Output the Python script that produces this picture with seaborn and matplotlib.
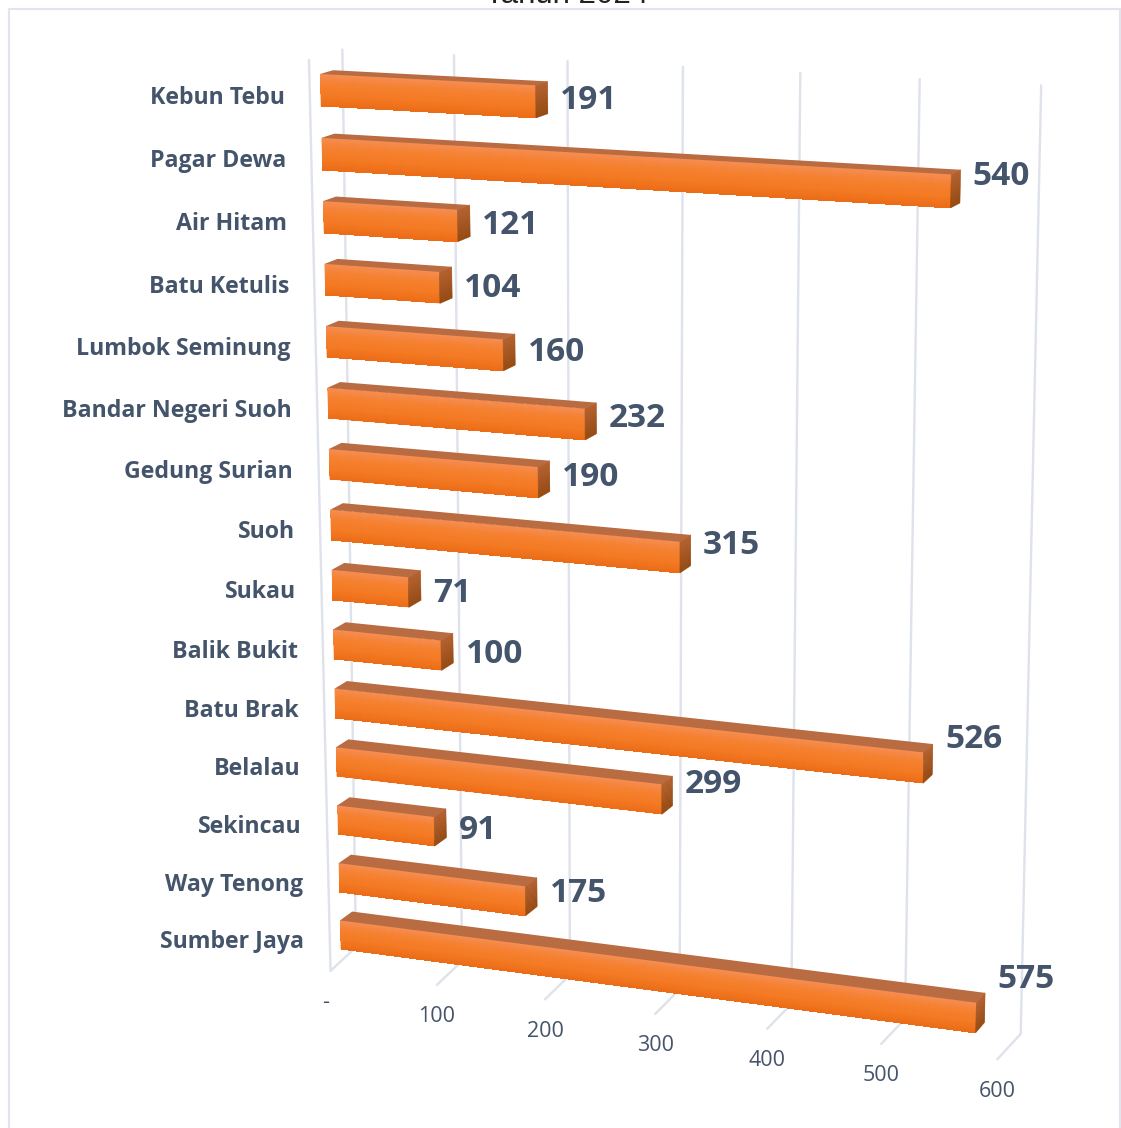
import numpy as np
import pandas as pd
import matplotlib
matplotlib.use("Agg")
import matplotlib.pyplot as plt
import matplotlib.transforms as mtransforms
from matplotlib.colors import LinearSegmentedColormap
from matplotlib.patches import Rectangle
import seaborn as sns

# ---------- data ----------
districts = ["Kebun Tebu", "Pagar Dewa", "Air Hitam", "Batu Ketulis", "Lumbok Seminung",
             "Bandar Negeri Suoh", "Gedung Surian", "Suoh", "Sukau", "Balik Bukit",
             "Batu Brak", "Belalau", "Sekincau", "Way Tenong", "Sumber Jaya"]
counts = [191, 540, 121, 104, 160, 232, 190, 315, 71, 100, 526, 299, 91, 175, 575]
axis_ticks = [0, 100, 200, 300, 400, 500, 600]
axis_tick_labels = ["-", "100", "200", "300", "400", "500", "600"]
title_text = "Tahun 2024"

# ---------- page ----------
W, H = 1121, 1128
TEXT = "#44546A"
GRID = "#DEE2EB"
BAR_H = 0.5

sns.set_theme(style="white")
plt.rcParams["font.family"] = ["Open Sans", "DejaVu Sans"]


def fit_camera(points):
    """Least-squares pinhole camera: (value, row, depth) -> picture pixel."""
    A, b = [], []
    for (v, y, d), (px, py) in points:
        A.append([v, y, d, 1, 0, 0, 0, 0, -px * v, -px * y, -px * d])
        b.append(px)
        A.append([0, 0, 0, 0, v, y, d, 1, -py * v, -py * y, -py * d])
        b.append(py)
    p = np.linalg.lstsq(np.array(A, float), np.array(b, float), rcond=None)[0]
    return np.append(p, 1.0).reshape(3, 4)


def project(P, v, y, d):
    q = P @ np.array([v, y, d, 1.0])
    return q[0] / q[2], q[1] / q[2]


def fit_plane(points):
    """Least-squares homography: (value, s) on a plane -> picture pixel."""
    A, b = [], []
    for (v, s), (px, py) in points:
        A.append([v, s, 1, 0, 0, 0, -px * v, -px * s])
        b.append(px)
        A.append([0, 0, 0, v, s, 1, -py * v, -py * s])
        b.append(py)
    p = np.linalg.lstsq(np.array(A, float), np.array(b, float), rcond=None)[0]
    return np.append(p, 1.0).reshape(3, 3)


def on_plane(M, v, s):
    q = M @ np.array([v, s, 1.0])
    return q[0] / q[2], q[1] / q[2]


class PlaneTransform(mtransforms.Transform):
    """Data (value, row) on a plane of constant depth -> display pixels."""
    input_dims = 2
    output_dims = 2
    has_inverse = False

    def __init__(self, P, plane_depth=0.0):
        super().__init__()
        self.P, self.plane_depth = P, plane_depth

    def transform_non_affine(self, xy):
        xy = np.asarray(xy, float)
        h = np.c_[xy, np.full(len(xy), self.plane_depth), np.ones(len(xy))]
        q = h @ self.P.T
        return np.c_[q[:, 0] / q[:, 2], H - q[:, 1] / q[:, 2]]


# Perspective of the bars: row/depth calibration
bar_cam = fit_camera([
    ((0, -.25, 0), (320.5, 74.5)), ((0, .25, 0), (320.5, 106)),
    ((191, -.25, 0), (536, 85)), ((191, .25, 0), (536, 118)),
    ((191, -.25, 1), (548, 81)), ((191, .25, 1), (548, 114)),
    ((0, -.25, 1), (332, 70)),
    ((0, .75, 0), (322, 138)), ((0, 1.25, 0), (322, 169.5)),
    ((540, .75, 0), (951, 174)), ((540, 1.25, 0), (951, 208)),
    ((540, .75, 1), (960, 170)), ((540, 1.25, 1), (960, 203)),
    ((0, 13.75, 0), (340, 920.7)), ((0, 14.25, 0), (340, 949)),
    ((575, 13.75, 0), (976, 1003)), ((575, 14.25, 0), (976, 1032)),
    ((575, 13.75, 1), (985, 992)), ((575, 14.25, 1), (984.5, 1024)),
    ((0, 13.75, 1), (353, 911)),
])
# Floor plane (value, depth): depth 0 = front edge, 1 = back edge
# The front edge is fully visible, so it counts more than the half-hidden back edge.
floor_front = [
    ((0, 0), (331, 970)), ((100, 0), (437, 985)), ((200, 0), (544.3, 999.3)),
    ((300, 0), (655, 1013.3)), ((400, 0), (767.3, 1029.3)),
    ((500, 0), (881.7, 1044.3)), ((600, 0), (997, 1060)),
]
floor_back = [
    ((0, 1), (355, 950)), ((100, 1), (460, 965)), ((200, 1), (570, 977)),
    ((300, 1), (681.7, 989)), ((400, 1), (793.3, 1001)),
    ((500, 1), (906.7, 1016)), ((600, 1), (1018, 1031)),
]
floor_plane = fit_plane(floor_front * 6 + floor_back)
# Back wall (value, height): 0 = top, 1 = floor
back_plane = fit_plane([
    ((0, 0), (343, 50)), ((100, 0), (454, 55)), ((200, 0), (567, 61)),
    ((300, 0), (682, 67)), ((400, 0), (800, 73)), ((500, 0), (921, 79)),
    ((600, 0), (1041, 85)),
] + floor_back)
LEFT_WALL_TOP = (309, 60)

fig = plt.figure(figsize=(W / 100, H / 100), dpi=100, facecolor="white")
ax = fig.add_axes([0, 0, 1, 1])
px = mtransforms.IdentityTransform()


def xy_px(x, y):
    return x, H - y


# chart frame
fig.add_artist(Rectangle((9, -20), 1111, H - 9 + 20, transform=px, fill=False,
                         ec="#E2E5ED", lw=1.5))

# ---------- bars via seaborn ----------
df = pd.DataFrame({"district": districts, "count": counts})
sns.barplot(data=df, x="count", y="district", orient="h", width=BAR_H,
            color="#F57C28", saturation=1, linewidth=0, ax=ax, zorder=3)
front = PlaneTransform(bar_cam, 0.0)
for patch in ax.patches:
    patch.set_transform(front)
    patch.set_clip_on(False)

front_cmap = LinearSegmentedColormap.from_list(
    "front", ["#F58D54", "#F5802F", "#F47A24", "#EC6D17"])
side_cmap = LinearSegmentedColormap.from_list("side", ["#B4602E", "#94480F"])
rows = np.linspace(0, 1, 41)
shade = ((rows[:-1] + rows[1:]) / 2).reshape(-1, 1)

for i, v in enumerate(counts):
    top, bot = i - BAR_H / 2, i + BAR_H / 2
    # gradient on the front face
    mesh = ax.pcolormesh([0, v], top + rows * BAR_H, shade, cmap=front_cmap,
                         vmin=0, vmax=1, transform=front, zorder=3.1,
                         shading="flat", antialiased=False, linewidth=0)
    mesh.set_clip_on(False)
    # top face
    pts = [project(bar_cam, a, top, d) for a, d in ((0, 0), (v, 0), (v, 1), (0, 1))]
    ax.fill(*zip(*[xy_px(*p) for p in pts]), color="#B96B41", lw=0,
            transform=px, zorder=3.2, clip_on=False)
    # end face
    steps = np.linspace(0, 1, 17)
    for s0, s1 in zip(steps[:-1], steps[1:]):
        y0, y1 = top + s0 * BAR_H, top + s1 * BAR_H
        pts = [project(bar_cam, v, y0, 0), project(bar_cam, v, y0, 1),
               project(bar_cam, v, y1, 1), project(bar_cam, v, y1, 0)]
        ax.fill(*zip(*[xy_px(*p) for p in pts]), color=side_cmap((s0 + s1) / 2),
                lw=0.4, ec=side_cmap((s0 + s1) / 2), transform=px, zorder=3.2,
                clip_on=False)

    # category label
    lx, ly = project(bar_cam, 0, i, 0)
    ax.text(*xy_px(lx - 36, ly + 7.5), districts[i], transform=px, ha="right",
            va="center", fontsize=16.7, fontweight="bold", color=TEXT, zorder=6)
    # value label
    vx = project(bar_cam, v, i, 1)[0]
    vy = project(bar_cam, v / 2, i, 0)[1]
    ax.text(*xy_px(vx + 12.5, vy + 4.5), str(v), transform=px, ha="left", va="center",
            fontsize=24, fontweight="bold", color=TEXT, zorder=6)

# ---------- walls / gridlines ----------
for t, lab in zip(axis_ticks, axis_tick_labels):
    a = on_plane(floor_plane, t, 0)
    b = on_plane(floor_plane, t, 1)
    c = on_plane(back_plane, t, 0)
    ax.plot(*zip(*[xy_px(*a), xy_px(*b), xy_px(*c)]), color=GRID, lw=1.7,
            transform=px, zorder=1, clip_on=False, solid_joinstyle="miter")
    shift = -5 if t == 0 else 0
    ax.text(*xy_px(a[0] + shift, a[1] + 32), lab, transform=px, ha="center",
            va="center", fontsize=15.5, color=TEXT, zorder=6)
a = on_plane(floor_plane, 0, 0)
ax.plot(*zip(*[xy_px(*a), xy_px(*LEFT_WALL_TOP)]), color=GRID, lw=1.7, transform=px,
        zorder=1, clip_on=False)

# title clipped by the top of the picture
ax.text(*xy_px(567, 3), title_text, transform=px, ha="center", va="baseline",
        fontsize=22.5, color="#222222", family="Liberation Sans", clip_on=False)

ax.set_axis_off()
fig.savefig("out.png", dpi=100)
